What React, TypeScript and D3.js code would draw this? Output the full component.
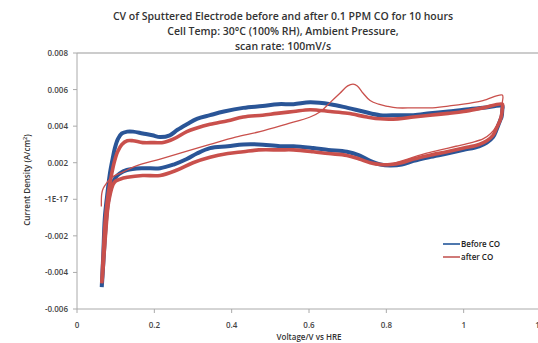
import React from "react";
import * as d3 from "d3";

const W = 538;
const H = 343;

const titleLines = [
  "CV of Sputtered Electrode before and after 0.1 PPM CO for 10 hours",
  "Cell Temp: 30\u00B0C (100% RH), Ambient Pressure,",
  "scan rate: 100mV/s",
];
const xTicks = [0, 0.2, 0.4, 0.6, 0.8, 1, 1.2];
const xTickLabels = ["0", "0.2", "0.4", "0.6", "0.8", "1", "1.2"];
const yTicks = [0.008, 0.006, 0.004, 0.002, 0, -0.002, -0.004, -0.006];
const yTickLabels = ["0.008", "0.006", "0.004", "0.002", "-1E-17", "-0.002", "-0.004", "-0.006"];
const seriesNames = ["Before CO", "after CO"];

// Before CO: stabilised CV loop (anodic then cathodic)
const beforeV = [
  0.064, 0.068, 0.072, 0.078, 0.085, 0.092, 0.098, 0.106, 0.116, 0.13, 0.145, 0.17, 0.195, 0.215, 0.24, 0.26,
  0.284, 0.31, 0.344, 0.38, 0.43, 0.48, 0.52, 0.56, 0.603, 0.655, 0.7, 0.74, 0.784, 0.83, 0.87, 0.913, 0.96,
  1.0, 1.05, 1.1,
  1.1, 1.098, 1.094, 1.085, 1.076, 1.06, 1.04, 1.0, 0.957, 0.91, 0.87, 0.84, 0.81, 0.785, 0.758, 0.73, 0.698,
  0.65, 0.611, 0.56, 0.525, 0.47, 0.43, 0.39, 0.344, 0.31, 0.284, 0.25, 0.215, 0.17, 0.129, 0.11, 0.1, 0.09,
  0.085, 0.08, 0.075, 0.07, 0.066, 0.064,
];
const beforeI = [
  -0.0048, -0.003, -0.001, 0.0002, 0.0014, 0.0022, 0.0028, 0.0033, 0.0036, 0.0037, 0.0037, 0.0036, 0.0035,
  0.0034, 0.0035, 0.0038, 0.0041, 0.0044, 0.0046, 0.0048, 0.005, 0.0051, 0.0052, 0.0052, 0.0053, 0.0052,
  0.005, 0.0048, 0.0046, 0.0046, 0.0046, 0.0047, 0.0048, 0.0049, 0.005, 0.0051,
  0.0049, 0.0045, 0.0043, 0.0038, 0.0034, 0.0031, 0.0029, 0.0027, 0.0025, 0.0023, 0.0021, 0.0019, 0.00185,
  0.0019, 0.0021, 0.0024, 0.0026, 0.0027, 0.0028, 0.0029, 0.0029, 0.003, 0.003, 0.0029, 0.0028, 0.0025,
  0.0022, 0.0019, 0.0017, 0.0017, 0.0016, 0.0014, 0.0012, 0.0008, 0.0004, -0.0002, -0.0012, -0.0028,
  -0.0042, -0.0048,
];

// After CO: stabilised CV loop
const afterV = [
  0.064, 0.068, 0.073, 0.08, 0.088, 0.096, 0.105, 0.116, 0.13, 0.145, 0.17, 0.2, 0.223, 0.25, 0.284, 0.31,
  0.344, 0.39, 0.43, 0.48, 0.517, 0.56, 0.603, 0.655, 0.7, 0.75, 0.784, 0.83, 0.87, 0.913, 0.96, 1.0, 1.05,
  1.1,
  1.1, 1.098, 1.094, 1.085, 1.076, 1.06, 1.04, 1.0, 0.957, 0.91, 0.87, 0.84, 0.81, 0.785, 0.758, 0.73, 0.698,
  0.65, 0.611, 0.56, 0.525, 0.47, 0.43, 0.39, 0.344, 0.3, 0.259, 0.215, 0.17, 0.13, 0.111, 0.1, 0.093, 0.085,
  0.08, 0.075, 0.07, 0.066, 0.064,
];
const afterI = [
  -0.0046, -0.003, -0.0012, 0.0002, 0.0012, 0.002, 0.0026, 0.003, 0.0032, 0.0032, 0.0031, 0.0031, 0.0031,
  0.0033, 0.0037, 0.0039, 0.0041, 0.0043, 0.0045, 0.0046, 0.0047, 0.0048, 0.0049, 0.0048, 0.0047, 0.0045,
  0.0044, 0.0044, 0.0045, 0.0046, 0.0047, 0.0048, 0.005, 0.0052,
  0.005, 0.0046, 0.0043, 0.0039, 0.0035, 0.0032, 0.003, 0.0028, 0.0026, 0.0024, 0.0022, 0.002, 0.0019,
  0.0019, 0.002, 0.0022, 0.0024, 0.0025, 0.0026, 0.0027, 0.0027, 0.0027, 0.0026, 0.0025, 0.0023, 0.002,
  0.0016, 0.0013, 0.0013, 0.0012, 0.0011, 0.001, 0.0008, 0.0002, -0.0004, -0.0016, -0.003, -0.0042, -0.0046,
];

// After CO: first (CO stripping) scan
const strippingV = [
  0.063, 0.064, 0.068, 0.077, 0.09, 0.12, 0.15, 0.215, 0.28, 0.344, 0.41, 0.473, 0.54, 0.603, 0.63, 0.655,
  0.68, 0.7, 0.714, 0.725, 0.74, 0.758, 0.78, 0.8, 0.828, 0.87, 0.913, 0.96, 0.999, 1.05, 1.1,
  1.1, 1.095, 1.085, 1.07, 1.05, 1.02, 0.98, 0.94, 0.9, 0.87, 0.84, 0.81,
];
const strippingI = [
  -0.0004, 0.0003, 0.0006, 0.0009, 0.0012, 0.0015, 0.0018, 0.0022, 0.0026, 0.003, 0.0034, 0.0037, 0.0041,
  0.0045, 0.0048, 0.0053, 0.0058, 0.0062, 0.0063, 0.0062, 0.0058, 0.0054, 0.0052, 0.0051, 0.005, 0.005,
  0.005, 0.0051, 0.0052, 0.0054, 0.0057,
  0.0053, 0.0045, 0.0040, 0.0036, 0.0033, 0.0031, 0.0029, 0.0027, 0.0025, 0.0023, 0.0021, 0.0019,
];

const BLUE = "#2A5597";
const RED = "#C9504C";
const LEG_BLUE = "#4F78AE";
const LEG_RED = "#D07A78";
const FONT = "'Open Sans', 'Liberation Sans', sans-serif";
const TXT = "#333";

export default function App() {
  const x = d3.scaleLinear().domain([0, 1.2]).range([77, 541]);
  const y = d3.scaleLinear().domain([-0.006, 0.008]).range([309, 53]);
  const line = d3
    .line<[number, number]>()
    .x((d) => x(d[0]))
    .y((d) => y(d[1]))
    .curve(d3.curveCatmullRom.alpha(0.5));

  const zip = (a: number[], b: number[]) => a.map((v, i) => [v, b[i]] as [number, number]);
  const before = zip(beforeV, beforeI);
  const after = zip(afterV, afterI);
  const strip = zip(strippingV, strippingI);

  return (
    <svg
      width={W}
      height={H}
      style={{ position: "absolute", left: 0, top: 0, background: "#fff" }}
      fontFamily={FONT}
    >
      <rect x={0} y={0} width={W} height={H} fill="#fff" />
      {titleLines.map((t, i) => (
        <text
          key={i}
          x={283}
          y={20 + i * 15}
          textAnchor="middle"
          fontSize={10.5}
          fontWeight={600}
          fill={TXT}
        >
          {t}
        </text>
      ))}
      {/* top gridline */}
      <line x1={x(0)} x2={W} y1={y(0.008)} y2={y(0.008)} stroke="#999" strokeWidth={1} />
      {/* axes */}
      <line x1={x(0)} x2={x(0)} y1={y(0.008)} y2={y(-0.006)} stroke="#aaa" strokeWidth={1} />
      <line x1={x(0)} x2={W} y1={y(-0.006)} y2={y(-0.006)} stroke="#aaa" strokeWidth={1} />
      {yTicks.map((t, i) => (
        <g key={"y" + i}>
          <line x1={x(0) - 4} x2={x(0)} y1={y(t)} y2={y(t)} stroke="#aaa" />
          <text
            x={68}
            y={y(t) + 3}
            textAnchor="end"
            fontSize={8}
            fontWeight={600}
            fill="#444"
          >
            {yTickLabels[i]}
          </text>
        </g>
      ))}
      {xTicks.map((t, i) => (
        <g key={"x" + i}>
          <line x1={x(t)} x2={x(t)} y1={y(-0.006)} y2={y(-0.006) + 4} stroke="#aaa" />
          <text x={x(t)} y={328} textAnchor="middle" fontSize={8} fontWeight={600} fill="#444">
            {xTickLabels[i]}
          </text>
        </g>
      ))}
      <text x={309} y={340} textAnchor="middle" fontSize={8} fontWeight={600} fill={TXT}>
        Voltage/V vs HRE
      </text>
      <text
        transform="translate(30,180) rotate(-90)"
        textAnchor="middle"
        fontSize={8}
        fontWeight={600}
        fill={TXT}
      >
        Current Density (A/cm<tspan dy={-3} fontSize={5.5}>2</tspan>
        <tspan dy={3}>)</tspan>
      </text>

      {/* series */}
      <path d={line(before) || ""} fill="none" stroke={BLUE} strokeWidth={4} strokeLinejoin="round" />
      <path d={line(after) || ""} fill="none" stroke={RED} strokeWidth={3.6} strokeLinejoin="round" />
      <path d={line(strip) || ""} fill="none" stroke={RED} strokeWidth={1.3} strokeLinejoin="round" />

      {/* legend */}
      {seriesNames.map((n, i) => (
        <g key={n}>
          <line
            x1={443}
            x2={460}
            y1={244 + i * 13}
            y2={244 + i * 13}
            stroke={i === 0 ? LEG_BLUE : LEG_RED}
            strokeWidth={2}
          />
          <text x={461} y={247 + i * 13} fontSize={8} fontWeight={600} fill="#222">
            {n}
          </text>
        </g>
      ))}
    </svg>
  );
}
